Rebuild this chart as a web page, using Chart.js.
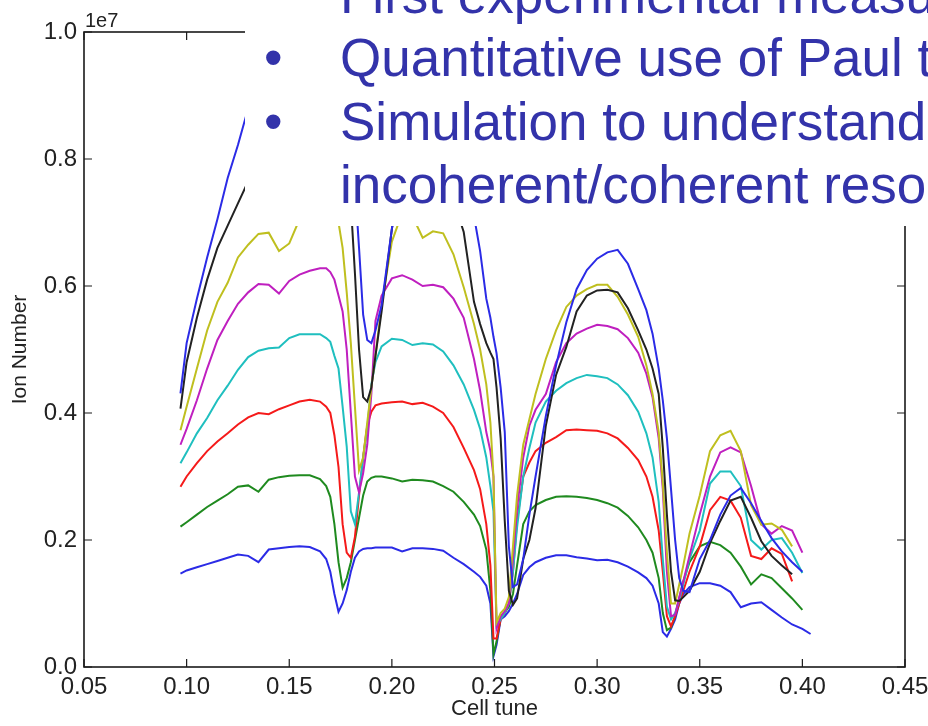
<!DOCTYPE html>
<html>
<head>
<meta charset="utf-8">
<script src="https://cdn.jsdelivr.net/npm/chart.js@4/dist/chart.umd.min.js"></script>
<style>
  html, body { margin: 0; padding: 0; background: #fff; }
  #wrap { position: relative; width: 928px; height: 726px; overflow: hidden; background: #fff; }
  #c { position: absolute; left: 0; top: 0; }
  #box { position: absolute; left: 245px; top: 0; width: 683px; height: 226px; background: #fff; overflow: hidden; }
  .ln { position: absolute; white-space: nowrap; font-family: "Liberation Sans", Arial, sans-serif;
        font-size: 53px; line-height: 53px; color: #3333aa; }
</style>
</head>
<body>
<div id="wrap">
  <canvas id="c" width="928" height="726"></canvas>
  <div id="box">
    <div class="ln" style="left:95px; top:-32px;">First experimental measurements</div>
    <div class="ln" style="left:19px; top:31px;">•</div>
    <div class="ln" style="left:95px; top:31px;">Quantitative use of Paul trap</div>
    <div class="ln" style="left:19px; top:95px;">•</div>
    <div class="ln" style="left:95px; top:95px;">Simulation to understand</div>
    <div class="ln" style="left:95px; top:158px;">incoherent/coherent resonances</div>
  </div>
</div>
<script>
// Cell tune values (x) shared by all curves
const tunes = [
  0.097,0.100,0.105,0.110,0.115,0.120,0.125,0.130,0.135,0.140,0.145,0.150,0.155,0.160,0.165,
  0.168,0.170,0.172,0.174,0.176,0.178,0.180,0.182,0.184,0.186,0.188,0.190,0.192,
  0.195,0.200,0.205,0.210,0.215,0.220,0.225,0.230,0.235,0.240,0.243,0.246,
  0.248,0.2495,0.251,0.253,0.255,0.257,0.259,0.261,0.264,
  0.267,0.270,0.275,0.280,0.285,0.290,0.295,0.300,0.305,0.310,0.315,0.320,
  0.324,0.327,0.330,0.332,0.334,0.336,0.338,0.340,0.342,0.345,
  0.350,0.355,0.360,0.365,0.370,0.375,0.380,0.385,0.390,0.395,0.400,0.404
];

// Ion numbers, in units of 1e7
const ionBlueLow = [
  0.147,0.152,0.157,0.162,0.167,0.172,0.177,0.175,0.165,0.185,0.187,0.189,0.190,0.189,0.182,
  0.170,0.150,0.115,0.087,0.100,0.121,0.150,0.172,0.182,0.186,0.187,0.187,0.188,
  0.188,0.188,0.182,0.187,0.187,0.186,0.183,0.172,0.162,0.150,0.142,0.128,
  0.100,0.017,0.035,0.075,0.080,0.088,0.100,0.115,0.145,
  0.157,0.165,0.172,0.176,0.176,0.173,0.171,0.168,0.169,0.165,0.158,0.149,
  0.140,0.128,0.100,0.055,0.048,0.060,0.075,0.100,0.115,0.126,
  0.132,0.132,0.128,0.118,0.094,0.100,0.102,0.090,0.078,0.067,0.060,0.052
];
const ionGreen = [
  0.221,0.228,0.240,0.252,0.262,0.272,0.284,0.286,0.276,0.295,0.299,0.301,0.302,0.302,0.296,
  0.285,0.268,0.225,0.165,0.125,0.140,0.165,0.200,0.235,0.270,0.292,0.298,0.300,
  0.300,0.297,0.292,0.295,0.294,0.292,0.285,0.276,0.260,0.240,0.222,0.185,
  0.120,0.020,0.040,0.078,0.086,0.095,0.115,0.160,0.225,
  0.245,0.255,0.263,0.268,0.269,0.268,0.266,0.263,0.258,0.251,0.238,0.220,
  0.200,0.180,0.140,0.085,0.058,0.062,0.080,0.108,0.135,0.165,
  0.190,0.197,0.192,0.180,0.158,0.130,0.146,0.140,0.124,0.108,0.090,null
];
const ionRed = [
  0.284,0.300,0.321,0.340,0.355,0.368,0.382,0.393,0.400,0.398,0.406,0.412,0.418,0.421,0.418,
  0.410,0.400,0.365,0.315,0.225,0.180,0.172,0.205,0.270,0.331,0.380,0.402,0.412,
  0.415,0.417,0.418,0.414,0.416,0.410,0.400,0.378,0.345,0.310,0.280,0.225,
  0.160,0.045,0.045,0.075,0.085,0.100,0.150,0.230,0.300,
  0.322,0.340,0.353,0.362,0.373,0.374,0.373,0.372,0.368,0.360,0.345,0.326,
  0.300,0.268,0.215,0.150,0.080,0.064,0.080,0.100,0.120,0.150,
  0.190,0.247,0.268,0.262,0.235,0.175,0.170,0.187,0.178,0.135,null,null
];
const ionCyan = [
  0.321,0.338,0.368,0.392,0.420,0.443,0.468,0.488,0.498,0.502,0.503,0.518,0.524,0.524,0.524,
  0.518,0.512,0.490,0.470,0.410,0.347,0.245,0.225,0.275,0.330,0.375,0.445,0.480,
  0.505,0.517,0.515,0.507,0.510,0.508,0.497,0.475,0.445,0.405,0.375,0.330,
  0.285,0.245,0.065,0.075,0.085,0.100,0.150,0.220,0.300,
  0.345,0.385,0.418,0.435,0.447,0.455,0.460,0.458,0.455,0.445,0.428,0.402,
  0.368,0.330,0.260,0.170,0.095,0.075,0.085,0.105,0.130,0.170,
  0.215,0.289,0.308,0.308,0.285,0.200,0.185,0.200,0.203,0.180,0.148,null
];
const ionMagenta = [
  0.350,0.375,0.420,0.470,0.515,0.545,0.572,0.590,0.603,0.602,0.588,0.608,0.618,0.624,0.628,
  0.628,0.622,0.610,0.585,0.560,0.500,0.400,0.300,0.275,0.305,0.350,0.430,0.545,
  0.585,0.612,0.617,0.610,0.600,0.602,0.598,0.580,0.550,0.485,0.435,0.370,
  0.340,0.300,0.060,0.080,0.088,0.100,0.170,0.250,0.330,
  0.380,0.405,0.430,0.480,0.510,0.525,0.533,0.539,0.537,0.532,0.518,0.495,
  0.462,0.425,0.360,0.280,0.150,0.080,0.082,0.110,0.135,0.175,
  0.240,0.300,0.338,0.346,0.338,0.285,0.225,0.210,0.222,0.215,0.180,null
];
const ionYellow = [
  0.373,0.410,0.470,0.530,0.575,0.605,0.645,0.665,0.682,0.684,0.655,0.667,0.705,0.730,0.745,
  0.745,0.740,0.725,0.700,0.660,0.590,0.510,0.410,0.310,0.330,0.385,0.440,0.490,
  0.570,0.670,0.715,0.710,0.676,0.686,0.683,0.650,0.598,0.540,0.500,0.445,
  0.385,0.300,0.070,0.085,0.092,0.110,0.190,0.270,0.350,
  0.390,0.430,0.485,0.530,0.567,0.585,0.595,0.602,0.602,0.583,0.555,0.520,
  0.475,0.430,0.370,0.290,0.180,0.100,0.100,0.130,0.160,0.210,
  0.270,0.340,0.365,0.372,0.340,0.255,0.224,0.226,0.216,0.190,null,null
];
const ionBlack = [
  0.407,0.480,0.550,0.610,0.660,0.695,0.730,0.765,0.790,0.805,0.815,0.820,0.825,0.825,0.820,
  0.815,0.810,0.800,0.790,0.775,0.760,0.730,0.620,0.500,0.425,0.418,0.440,0.490,
  0.560,0.690,0.770,0.800,0.805,0.795,0.775,0.735,0.685,0.575,0.540,0.510,
  0.495,0.485,0.440,0.360,0.230,0.120,0.098,0.108,0.170,
  0.200,0.250,0.380,0.460,0.504,0.560,0.585,0.593,0.594,0.590,0.565,0.530,
  0.500,0.470,0.430,0.345,0.240,0.150,0.105,0.104,0.110,0.120,
  0.150,0.195,0.230,0.262,0.268,0.235,0.198,0.175,0.160,0.146,null,null
];
const ionBlueHigh = [
  0.431,0.510,0.580,0.645,0.705,0.770,0.822,0.880,0.920,0.940,0.955,0.965,0.970,0.970,0.965,
  0.955,0.945,0.930,0.910,0.890,0.860,0.820,0.760,0.660,0.555,0.515,0.510,0.530,
  0.570,0.690,0.800,0.850,0.870,0.865,0.840,0.800,0.750,0.710,0.655,0.580,
  0.550,0.520,0.494,0.440,0.370,0.190,0.126,0.130,0.170,
  0.240,0.300,0.395,0.475,0.543,0.595,0.625,0.643,0.653,0.657,0.635,0.595,
  0.562,0.525,0.470,0.420,0.360,0.280,0.200,0.140,0.120,0.118,
  0.170,0.200,0.240,0.270,0.282,0.258,0.230,0.203,0.182,0.165,0.150,null
];

const xTicks = [0.05, 0.10, 0.15, 0.20, 0.25, 0.30, 0.35, 0.40, 0.45];
const yTicks = [0.0, 0.2, 0.4, 0.6, 0.8, 1.0];
const offsetLabel = '1e7';
const xTitle = 'Cell tune';
const yTitle = 'Ion Number';

const seriesList = [ionBlueLow, ionGreen, ionRed, ionCyan, ionMagenta, ionYellow, ionBlack, ionBlueHigh];
const seriesColors = ['#2b2be6', '#1f8a1f', '#f51a1a', '#1fbfbf', '#bf1fbf', '#bfbf1f', '#222222', '#2b2be6'];

const FONT = "'Liberation Sans', Arial, sans-serif";

const datasets = seriesList.map((arr, i) => ({
  data: tunes.map((t, k) => ({ x: t, y: arr[k] })),
  borderColor: seriesColors[i],
  borderWidth: 2,
  pointRadius: 0,
  tension: 0,
  fill: false,
  spanGaps: false,
  order: seriesList.length - i
}));

const framePlugin = {
  id: 'frame',
  afterDatasetsDraw(chart) {
    const { ctx, chartArea: a, scales: { x, y } } = chart;
    ctx.save();
    ctx.strokeStyle = '#1a1a1a';
    ctx.lineWidth = 1.6;
    ctx.strokeRect(a.left, a.top, a.right - a.left, a.bottom - a.top);
    ctx.lineWidth = 1.2;
    ctx.beginPath();
    xTicks.forEach(v => {
      const px = x.getPixelForValue(v);
      ctx.moveTo(px, a.bottom); ctx.lineTo(px, a.bottom - 8);
      ctx.moveTo(px, a.top); ctx.lineTo(px, a.top + 8);
    });
    yTicks.forEach(v => {
      const py = y.getPixelForValue(v);
      ctx.moveTo(a.left, py); ctx.lineTo(a.left + 8, py);
      ctx.moveTo(a.right, py); ctx.lineTo(a.right - 8, py);
    });
    ctx.stroke();
    ctx.fillStyle = '#222';
    ctx.font = '20px ' + FONT;
    ctx.textAlign = 'left';
    ctx.textBaseline = 'alphabetic';
    ctx.fillText(offsetLabel, a.left + 1, a.top - 5);
    ctx.restore();
  }
};

new Chart(document.getElementById('c'), {
  type: 'line',
  data: { datasets },
  options: {
    responsive: false,
    animation: false,
    devicePixelRatio: 1,
    layout: { padding: { top: 32, right: 23, left: 0, bottom: 0 } },
    plugins: { legend: { display: false }, tooltip: { enabled: false } },
    scales: {
      x: {
        type: 'linear',
        min: 0.05, max: 0.45,
        grid: { display: false, drawTicks: false },
        border: { display: false },
        afterBuildTicks: s => { s.ticks = xTicks.map(v => ({ value: v })); },
        afterFit: s => { s.height = 59; s.paddingLeft = 0; s.paddingRight = 0; },
        ticks: {
          autoSkip: false, maxRotation: 0, padding: 6,
          color: '#222', font: { family: FONT, size: 24 },
          callback: v => Number(v).toFixed(2)
        },
        title: { display: true, text: xTitle, color: '#222', font: { family: FONT, size: 22 }, padding: { top: 0, bottom: 4 } }
      },
      y: {
        type: 'linear',
        min: 0, max: 1.0,
        grid: { display: false, drawTicks: false },
        border: { display: false },
        afterBuildTicks: s => { s.ticks = yTicks.map(v => ({ value: v })); },
        afterFit: s => { s.width = 84; s.paddingTop = 0; s.paddingBottom = 0; },
        ticks: {
          padding: 7,
          color: '#222', font: { family: FONT, size: 24 },
          callback: v => Number(v).toFixed(1)
        },
        title: { display: true, text: yTitle, color: '#222', font: { family: FONT, size: 21 }, padding: { top: 8, bottom: 0 } }
      }
    }
  },
  plugins: [framePlugin]
});
</script>
</body>
</html>
